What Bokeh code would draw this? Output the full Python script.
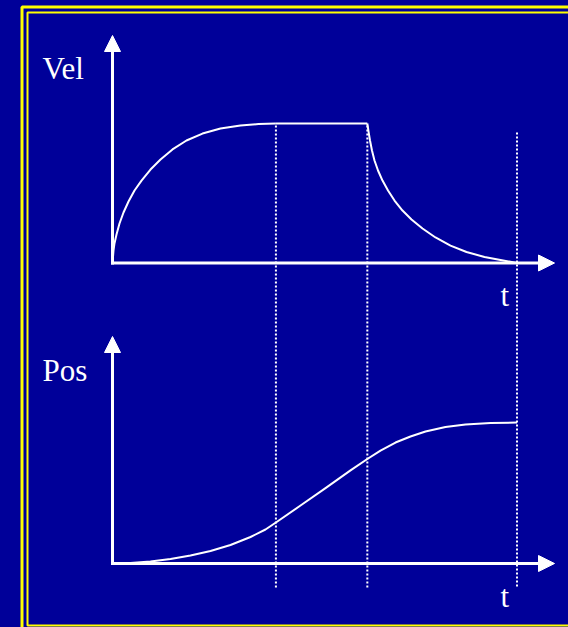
from bokeh.plotting import figure
from bokeh.models import Range1d, Arrow, NormalHead, CustomJS
from bokeh.core.properties import value
from bokeh.document import Document
from bokeh.embed import file_html
from bokeh.resources import INLINE

# ---------------- data (time in arbitrary units, t3 = 10) ----------------
phase_times = [4.04, 6.30, 10.0]          # t1 (end accel), t2 (start decel), t3 (stop)

vel_rise_t = [0, 0.025, 0.049, 0.099, 0.173, 0.272, 0.396, 0.544, 0.717, 0.939, 1.187, 1.483,
              1.829, 2.225, 2.670, 3.164, 3.609, 4.04]
vel_rise_v = [0, 0.090, 0.140, 0.204, 0.283, 0.362, 0.441, 0.520, 0.591, 0.670, 0.742, 0.814,
              0.878, 0.928, 0.964, 0.986, 0.996, 1.0]

vel_flat_t = [4.04, 6.30]
vel_flat_v = [1.0, 1.0]

vel_fall_t = [6.30, 6.329, 6.366, 6.415, 6.477, 6.564, 6.675, 6.811, 6.972, 7.169, 7.392, 7.664,
              7.985, 8.356, 8.752, 9.197, 9.592, 10.0]
vel_fall_v = [1.0, 0.943, 0.878, 0.806, 0.735, 0.663, 0.591, 0.520, 0.448, 0.376, 0.312, 0.247,
              0.183, 0.125, 0.079, 0.043, 0.022, 0.0]

pos_t = [0, 0.445, 0.939, 1.434, 1.928, 2.423, 2.917, 3.412, 3.782, 4.04, 4.648, 5.266, 5.884,
         6.30, 6.625, 6.996, 7.367, 7.738, 8.232, 8.727, 9.345, 10.0]
pos_p = [0, 0.004, 0.014, 0.032, 0.057, 0.089, 0.131, 0.188, 0.241, 0.291, 0.411, 0.535, 0.660,
         0.741, 0.801, 0.858, 0.901, 0.936, 0.968, 0.986, 0.996, 1.0]

vel_label = "Vel"
pos_label = "Pos"
time_label = "t"

# ---------------- layout (page pixel frame) ----------------
W, H = 568, 627
PX0, PY0 = 0, 0                 # page offset of the canvas
X_ORIGIN = 112.0                # page x of t = 0
PX_PER_T = 40.45
VEL_ZERO_Y, VEL_ONE_Y = 262.5, 123.0
POS_ZERO_Y, POS_ONE_Y = 563.0, 422.0

BG = "#000099"
FG = "white"
YEL = "#ffff00"
SERIF = value("Liberation Serif")

p = figure(width=W, height=H, output_backend="svg", toolbar_location=None,
           x_axis_type=None, y_axis_type=None, min_border=0,
           x_range=Range1d(PX0, PX0 + W), y_range=Range1d(PY0 + H, PY0))
p.background_fill_color = BG
p.border_fill_color = BG
p.outline_line_color = None
p.grid.visible = False

# time range mapping
p.extra_x_ranges = {
    "t": Range1d((PX0 - X_ORIGIN) / PX_PER_T, (PX0 + W - X_ORIGIN) / PX_PER_T)
}
vel_scale = VEL_ZERO_Y - VEL_ONE_Y
pos_scale = POS_ZERO_Y - POS_ONE_Y
p.extra_y_ranges = {
    "vel": Range1d((VEL_ZERO_Y - (PY0 + H)) / vel_scale, (VEL_ZERO_Y - PY0) / vel_scale),
    "pos": Range1d((POS_ZERO_Y - (PY0 + H)) / pos_scale, (POS_ZERO_Y - PY0) / pos_scale),
}

# ---------------- slide border ----------------
p.quad(left=21.5, right=620, top=6.5, bottom=660, fill_color=None, line_color=YEL, line_width=3)
p.quad(left=27, right=610, top=12, bottom=625, fill_color=None, line_color=YEL, line_width=2)

# ---------------- dotted phase markers ----------------
p.segment(x0=phase_times, x1=phase_times, y0=[125, 125, 132], y1=[587, 587, 587],
          x_range_name="t", line_color=FG, line_width=2, line_dash="2 2")

# ---------------- axes with arrows ----------------
def axis_arrow(xs, ys, xe, ye):
    p.add_layout(Arrow(end=NormalHead(size=16, fill_color=FG, line_color=FG, line_width=1),
                       x_start=xs, y_start=ys, x_end=xe, y_end=ye,
                       line_color=FG, line_width=3))

axis_arrow(X_ORIGIN, VEL_ZERO_Y + 1.5, X_ORIGIN, 35)
axis_arrow(X_ORIGIN - 1.5, VEL_ZERO_Y, 554, VEL_ZERO_Y)
axis_arrow(X_ORIGIN, POS_ZERO_Y + 1.5, X_ORIGIN, 336)
axis_arrow(X_ORIGIN - 1.5, POS_ZERO_Y, 554, POS_ZERO_Y)

# ---------------- curves ----------------
for tx, vy in ((vel_rise_t, vel_rise_v), (vel_flat_t, vel_flat_v), (vel_fall_t, vel_fall_v)):
    p.line(tx, vy, x_range_name="t", y_range_name="vel", line_color=FG, line_width=2,
           line_join="round")
p.line(pos_t, pos_p, x_range_name="t", y_range_name="pos", line_color=FG, line_width=2,
       line_join="round")

# ---------------- labels ----------------
p.text(x=[42, 42], y=[68, 370], text=[vel_label, pos_label], text_font=SERIF,
       text_font_size="31px", text_color=FG, text_baseline="alphabetic", text_align="left")
p.text(x=[500, 500], y=[295, 596], text=[time_label, time_label], text_font=SERIF,
       text_font_size="31px", text_color=FG, text_baseline="alphabetic", text_align="left")

doc = Document()
doc.add_root(p)
doc.js_on_event("document_ready", CustomJS(code="document.body.style.backgroundColor='%s';" % BG))

open("out.html", "w").write(file_html(p, INLINE))
